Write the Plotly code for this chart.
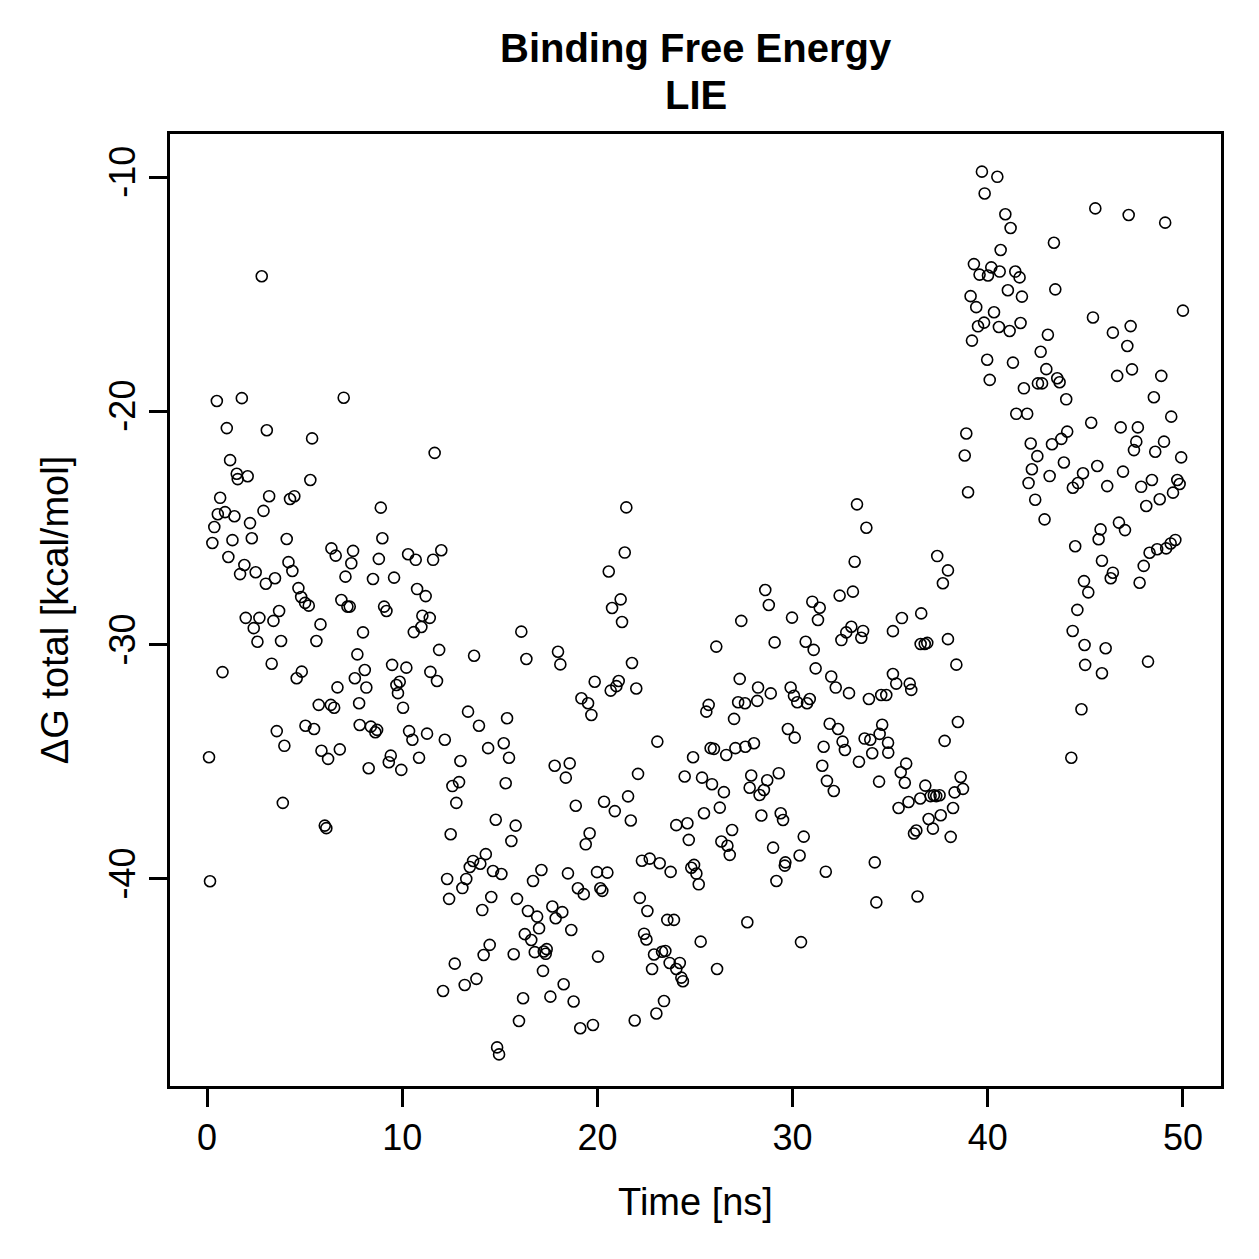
import plotly.graph_objects as go

# Time [ns]
time_ns = [
    2.80, 0.50, 1.78, 1.01, 3.06, 1.18, 1.52, 1.57, 2.08, 0.67, 3.18, 4.25, 4.47, 0.55, 0.92, 1.40, 2.89, 2.20, 0.37, 0.27,
    1.30, 2.29, 4.08, 1.09, 1.91, 1.69, 2.49, 3.01, 3.48, 4.17, 4.37, 4.68, 4.82, 5.02, 1.98, 2.68, 3.40, 3.69, 2.39, 2.58,
    3.79, 3.31, 0.79, 4.59, 4.85, 3.57, 0.10, 3.96, 3.88, 0.15,
    7.00, 5.38, 5.29, 8.90, 8.98, 6.37, 6.59, 7.48, 7.39, 8.80, 7.09, 8.50, 9.58, 5.21, 6.88, 7.19, 7.31, 9.07, 9.19, 5.81,
    5.60, 7.99, 7.70, 8.08, 7.57, 8.16, 6.68, 9.48, 9.70, 9.87, 9.78, 10.04, 7.79, 5.72, 6.34, 6.51, 5.04, 5.48, 7.82, 8.39,
    8.62, 8.71, 5.86, 6.20, 6.80, 8.28, 9.31, 9.41, 9.95, 6.03, 6.11,
    11.66, 10.30, 10.69, 11.58, 12.00, 10.76, 11.20, 11.03, 11.41, 10.98, 10.59, 11.89, 13.68, 10.21, 11.44, 11.78, 13.37, 13.93, 10.35, 10.52,
    11.27, 12.18, 14.40, 10.86, 12.98, 12.57, 12.91, 12.77, 12.48, 14.79, 14.28, 13.63, 13.46, 14.00, 13.28, 14.65, 15.08, 12.30, 13.08, 12.40,
    14.56, 14.10, 14.48, 14.17, 12.69, 13.80, 13.20, 12.09, 14.86, 14.96,
    16.10, 16.36, 17.98, 18.10, 19.86, 19.18, 19.52, 19.69, 15.37, 15.20, 15.47, 15.30, 17.81, 18.58, 18.38, 18.89, 15.81, 15.59, 19.60, 19.40,
    17.13, 16.70, 18.49, 19.98, 20.15, 20.25, 15.88, 19.00, 19.30, 16.44, 16.91, 17.69, 17.86, 18.20, 17.01, 18.66, 16.28, 16.61, 15.71, 16.79,
    17.25, 17.35, 17.40, 20.03, 17.21, 18.27, 16.19, 17.59, 18.78, 15.98, 19.12, 19.77,
    21.48, 21.40, 20.58, 21.19, 20.75, 21.26, 21.77, 21.09, 20.97, 20.68, 21.99, 23.07, 24.90, 22.08, 24.47, 20.34, 20.89, 21.57, 21.71, 24.04,
    24.61, 24.68, 22.28, 22.68, 23.19, 20.51, 23.75, 24.81, 24.95, 25.07, 22.17, 22.56, 23.58, 23.92, 22.39, 22.51, 22.90, 23.31, 23.48, 23.70,
    24.22, 24.04, 24.30, 24.38, 22.80, 23.41, 23.02, 21.91,
    28.60, 28.78, 29.97, 27.37, 26.09, 29.08, 27.29, 28.23, 28.88, 29.90, 30.07, 30.24, 25.70, 25.58, 27.21, 27.56, 28.19, 27.00, 29.76, 30.11,
    25.80, 25.97, 26.60, 27.07, 27.58, 28.02, 25.36, 25.87, 26.48, 27.88, 27.80, 28.31, 28.53, 28.70, 29.29, 26.27, 25.46, 28.40, 29.39, 29.51,
    26.90, 26.35, 26.66, 26.78, 29.00, 29.63, 29.60, 29.17, 25.19, 27.68, 25.29, 26.13,
    33.30, 33.78, 33.18, 33.09, 32.41, 31.01, 31.39, 31.30, 33.01, 32.75, 32.50, 33.61, 33.52, 30.67, 31.08, 31.18, 31.98, 32.21, 32.89, 33.91,
    34.54, 34.80, 30.74, 30.88, 31.90, 32.33, 31.59, 32.56, 32.68, 33.69, 33.98, 34.59, 34.46, 34.89, 34.08, 33.40, 31.52, 34.43, 31.76, 32.11,
    30.57, 30.36, 31.70, 34.21, 34.29, 30.43,
    39.70, 39.84, 39.29, 39.58, 40.01, 40.18, 39.12, 39.41, 39.50, 39.81, 39.19, 39.97, 40.10, 38.90, 38.82, 38.99, 37.41, 37.96, 37.70, 35.60,
    35.14, 36.59, 36.56, 36.77, 36.90, 37.96, 38.39, 35.14, 35.31, 36.00, 36.08, 34.90, 38.47, 37.79, 35.82, 35.54, 35.75, 36.80, 37.07, 37.24,
    37.36, 37.53, 38.61, 38.73, 38.30, 35.43, 35.94, 36.54, 37.59, 38.22, 36.97, 37.19, 36.22, 36.34, 38.10, 36.40,
    40.49, 40.90, 41.17, 43.39, 40.66, 40.61, 41.41, 41.63, 41.03, 41.75, 43.46, 40.32, 40.57, 41.12, 41.68, 43.08, 41.29, 42.71, 43.00, 41.85,
    42.57, 42.78, 43.56, 43.68, 44.02, 41.46, 42.02, 42.20, 42.54, 42.26, 42.09, 42.43, 42.91, 43.29, 43.77, 44.07, 43.90, 43.17, 44.36, 44.62,
    44.88, 44.48, 44.93, 45.15, 44.59, 44.35, 44.96, 44.80, 44.28,
    45.51, 47.22, 49.09, 50.00, 45.39, 46.41, 47.32, 47.15, 46.63, 47.39, 48.89, 48.51, 49.40, 45.30, 46.81, 47.69, 47.61, 47.49, 48.58, 49.03,
    49.91, 45.61, 46.93, 46.12, 47.86, 48.41, 49.71, 49.83, 49.49, 48.81, 48.12, 46.72, 47.03, 45.78, 45.68, 49.61, 49.37, 49.14, 48.68, 48.29,
    45.85, 46.41, 46.30, 47.99, 47.78, 46.04, 44.99, 45.85, 48.21,
]

# Delta G total [kcal/mol]
dg_total = [
    -14.24, -19.57, -19.45, -20.73, -20.82, -22.10, -22.68, -22.91, -22.79, -23.71, -23.64, -23.76, -23.64, -24.41, -24.32, -24.50, -24.27, -24.79, -24.96, -25.64,
    -25.52, -25.44, -25.47, -26.24, -26.58, -26.97, -26.89, -27.38, -27.15, -26.46, -26.84, -27.57, -27.95, -28.20, -28.84, -28.84, -28.97, -28.55, -29.28, -29.86,
    -29.83, -30.80, -31.16, -31.42, -31.14, -33.68, -34.80, -34.31, -36.75, -40.10,
    -19.43, -21.17, -22.95, -24.13, -25.44, -25.87, -26.18, -25.98, -26.51, -26.32, -27.08, -27.18, -27.12, -28.32, -28.08, -28.36, -28.36, -28.36, -28.55, -29.12,
    -29.83, -29.46, -30.40, -31.07, -31.42, -31.82, -31.81, -30.85, -31.71, -31.57, -32.06, -32.68, -32.49, -32.56, -32.56, -32.68, -33.45, -33.59, -33.42, -33.49,
    -33.73, -33.63, -34.52, -34.87, -34.46, -35.27, -35.01, -34.73, -35.34, -37.72, -37.83,
    -21.79, -26.12, -26.36, -26.36, -25.95, -27.61, -27.91, -28.75, -28.84, -29.23, -29.45, -30.21, -30.46, -30.97, -31.15, -31.54, -32.85, -33.45, -33.68, -34.05,
    -33.79, -34.05, -34.41, -34.82, -34.96, -36.03, -35.86, -36.75, -38.09, -37.47, -38.94, -39.23, -39.49, -39.35, -40.00, -39.66, -39.79, -40.00, -40.39, -40.85,
    -40.77, -41.33, -42.82, -43.25, -43.62, -44.27, -44.53, -44.79, -47.20, -47.50,
    -29.43, -30.60, -30.29, -30.83, -31.57, -32.28, -32.49, -32.99, -33.13, -34.20, -34.82, -35.91, -35.16, -35.06, -35.67, -36.87, -37.72, -38.38, -38.05, -38.52,
    -39.62, -40.09, -39.76, -39.71, -40.40, -40.51, -40.85, -40.40, -40.65, -41.37, -41.61, -41.18, -41.68, -41.42, -42.11, -42.18, -42.36, -42.61, -43.22, -43.13,
    -43.10, -43.20, -43.00, -43.32, -43.93, -44.50, -45.10, -45.03, -45.24, -46.07, -46.38, -46.24,
    -24.12, -26.05, -26.86, -28.05, -28.42, -29.02, -30.77, -31.54, -31.76, -31.95, -31.86, -34.13, -34.80, -35.51, -35.62, -36.70, -37.10, -36.47, -37.50, -37.70,
    -37.62, -38.33, -39.22, -39.13, -39.33, -39.73, -39.70, -39.52, -39.40, -39.77, -40.81, -41.37, -41.75, -41.75, -42.34, -42.59, -43.23, -43.11, -43.08, -43.59,
    -43.59, -43.85, -44.22, -44.37, -43.85, -45.22, -45.75, -46.05,
    -27.65, -28.29, -28.83, -28.97, -30.07, -29.89, -31.45, -31.82, -32.07, -31.82, -32.17, -32.45, -32.56, -32.85, -32.45, -32.49, -32.39, -33.16, -33.59, -33.96,
    -34.41, -34.44, -34.70, -34.41, -34.35, -34.20, -35.67, -35.95, -36.29, -35.58, -36.10, -36.41, -36.20, -35.78, -35.48, -36.95, -37.19, -37.29, -37.19, -37.48,
    -37.91, -38.40, -38.58, -38.97, -38.66, -39.29, -39.43, -40.09, -40.23, -41.85, -42.68, -43.85,
    -23.99, -24.99, -26.44, -27.72, -27.89, -28.15, -28.41, -28.93, -29.22, -29.46, -29.79, -29.40, -29.69, -29.86, -30.21, -31.00, -31.35, -31.82, -32.06, -32.31,
    -32.14, -32.14, -32.49, -32.31, -33.37, -33.59, -34.35, -34.13, -34.49, -34.00, -34.05, -33.41, -33.80, -34.18, -34.63, -34.99, -35.16, -35.84, -35.81, -36.24,
    -38.19, -39.00, -39.69, -39.29, -41.00, -42.70,
    -9.77, -10.70, -13.72, -14.17, -14.21, -13.86, -15.09, -15.56, -16.38, -16.22, -16.99, -17.81, -18.67, -20.96, -21.90, -23.47, -26.20, -26.81, -27.36, -28.85,
    -29.41, -28.65, -29.96, -29.96, -29.91, -29.75, -30.84, -31.24, -31.65, -31.65, -31.92, -34.60, -33.29, -34.10, -35.07, -35.44, -35.89, -36.01, -36.46, -36.42,
    -36.46, -36.42, -35.64, -36.15, -36.30, -36.97, -36.71, -36.56, -37.28, -36.97, -37.44, -37.85, -38.06, -37.93, -38.20, -40.75,
    -9.99, -11.59, -12.18, -12.81, -13.12, -14.04, -14.04, -14.29, -14.84, -15.11, -14.80, -15.78, -16.41, -16.58, -16.24, -16.74, -17.93, -17.47, -18.21, -19.03,
    -18.82, -18.82, -18.60, -18.77, -19.50, -20.12, -20.12, -21.39, -21.93, -22.49, -23.08, -23.79, -24.63, -21.42, -21.19, -20.88, -22.20, -22.78, -23.28, -23.08,
    -22.66, -25.78, -27.27, -27.75, -28.50, -29.40, -30.00, -32.75, -34.82,
    -11.34, -11.62, -11.95, -15.71, -16.00, -16.65, -16.37, -17.22, -18.50, -18.22, -18.50, -19.41, -20.24, -20.50, -20.70, -20.70, -21.31, -21.67, -21.74, -21.31,
    -21.98, -22.35, -22.59, -23.21, -23.24, -22.95, -22.95, -23.12, -23.49, -23.77, -24.06, -24.77, -25.09, -25.06, -25.48, -25.51, -25.66, -25.87, -25.91, -26.06,
    -26.40, -26.91, -27.15, -26.62, -27.34, -30.14, -30.85, -31.21, -30.71,
]

x_ticks = [0, 10, 20, 30, 40, 50]
x_tick_labels = ["0", "10", "20", "30", "40", "50"]
y_ticks = [-10, -20, -30, -40]
y_tick_labels = ["-10", "-20", "-30", "-40"]
title_lines = ["Binding Free Energy", "LIE"]

FONT = "Liberation Sans, Arial, Helvetica, sans-serif"

fig = go.Figure()
fig.add_trace(go.Scatter(
    x=time_ns, y=dg_total, mode="markers",
    marker=dict(symbol="circle-open", size=11, color="black", line=dict(width=1.6, color="black")),
    showlegend=False, hoverinfo="x+y",
))

fig.update_layout(
    width=1259, height=1259,
    paper_bgcolor="white", plot_bgcolor="white",
    margin=dict(l=170, r=38, t=134, b=173),
    font=dict(family=FONT, color="black", size=36),
)

# two-line bold title, centred over the plotting region
for line, ypos in zip(title_lines, [1.0903, 1.041]):
    fig.add_annotation(
        text="<b>" + line + "</b>", xref="paper", yref="paper",
        x=0.5, y=ypos, xanchor="center", yanchor="middle", showarrow=False,
        font=dict(family=FONT, size=40, color="black"),
    )

fig.update_xaxes(
    range=[-1.9, 51.95], tickmode="array", tickvals=x_ticks, ticktext=x_tick_labels,
    showgrid=False, zeroline=False, showline=True, mirror=True, linecolor="black", linewidth=2.5,
    ticks="outside", ticklen=18, tickwidth=2.5, tickcolor="black",
    tickfont=dict(family=FONT, size=36),
    title=dict(text="Time [ns]", font=dict(family=FONT, size=38), standoff=32),
)
fig.update_yaxes(
    range=[-48.85, -8.16], tickmode="array", tickvals=y_ticks, ticktext=y_tick_labels,
    showgrid=False, zeroline=False, showline=True, mirror=True, linecolor="black", linewidth=2.5,
    ticks="outside", ticklen=18, tickwidth=2.5, tickcolor="black", tickangle=-90,
    tickfont=dict(family=FONT, size=36),
    title=dict(text="ΔG total [kcal/mol]", font=dict(family=FONT, size=38), standoff=22),
)

fig.write_html("out.html")
